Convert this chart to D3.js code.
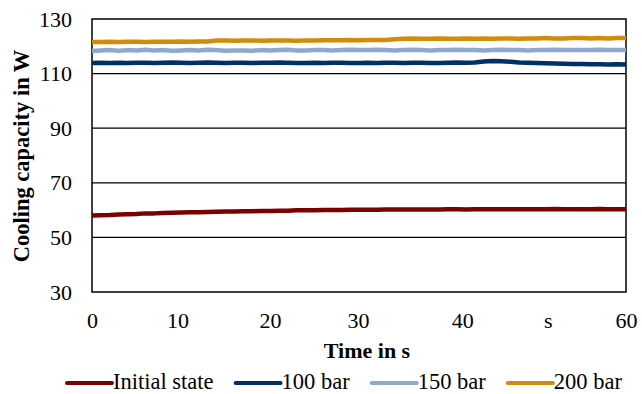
<!DOCTYPE html>
<html><head><meta charset="utf-8">
<script src="https://cdn.jsdelivr.net/npm/d3@7"></script>
<style>body{margin:0;background:#fff}svg{display:block}svg text{font-family:"Liberation Serif","Times New Roman",serif !important;fill:#000}</style>
</head><body><svg id="c" width="642" height="394"></svg>
<script>
// time stamps (s), one per second
const time = d3.range(0, 61);
const initialState = [58.0,58.1,58.2,58.4,58.5,58.6,58.8,58.8,58.9,59.0,59.1,59.2,59.2,59.3,59.4,59.5,59.5,59.6,59.6,59.7,59.7,59.8,59.8,59.9,59.9,59.9,60.0,60.0,60.0,60.1,60.1,60.1,60.1,60.2,60.2,60.2,60.2,60.2,60.2,60.2,60.3,60.3,60.2,60.3,60.3,60.3,60.3,60.3,60.3,60.3,60.3,60.3,60.4,60.3,60.3,60.3,60.3,60.4,60.3,60.3,60.3];
const bar100 = [113.9,114.0,113.9,114.0,113.9,114.0,114.0,113.9,114.0,114.1,114.0,113.9,114.0,114.1,114.0,113.9,114.0,114.0,113.9,114.0,114.0,114.1,114.0,113.9,113.9,114.0,113.9,114.0,114.0,113.9,113.9,114.0,113.9,114.0,114.0,113.9,114.0,114.0,113.9,113.9,114.0,114.1,114.0,114.1,114.4,114.6,114.5,114.3,114.1,114.0,113.9,113.8,113.7,113.6,113.5,113.5,113.4,113.4,113.3,113.4,113.3];
const bar150 = [118.3,118.5,118.6,118.4,118.6,118.5,118.7,118.5,118.6,118.4,118.5,118.6,118.5,118.7,118.6,118.4,118.5,118.5,118.4,118.6,118.5,118.6,118.7,118.5,118.5,118.6,118.6,118.5,118.6,118.7,118.6,118.6,118.7,118.6,118.5,118.6,118.7,118.6,118.5,118.6,118.6,118.7,118.6,118.6,118.5,118.6,118.7,118.6,118.6,118.5,118.6,118.6,118.7,118.6,118.6,118.6,118.6,118.7,118.6,118.6,118.6];
const bar200 = [121.6,121.6,121.7,121.6,121.7,121.7,121.6,121.7,121.7,121.7,121.8,121.7,121.8,121.8,122.1,122.1,122.0,122.1,122.1,122.0,122.1,122.1,122.1,122.0,122.1,122.1,122.2,122.2,122.2,122.3,122.2,122.3,122.3,122.3,122.6,122.8,122.9,122.8,122.8,122.9,122.8,122.8,122.9,122.8,122.9,122.8,122.9,122.9,122.8,122.9,122.9,123.0,122.9,122.9,123.0,123.0,122.9,123.0,122.9,123.0,123.0];
const seriesNames = ["Initial state","100 bar","150 bar","200 bar"];
const seriesColors = ["#7b0000","#003066","#8ea9cf","#d18c0a"];
const yTicks = [30,50,70,90,110,130];
const xTickValues = [0,9.6,20,29.9,41.6,51.2,60];
const xTickLabels = ["0","10","20","30","40","s","60"];

const series = [initialState, bar100, bar150, bar200];
const FONT = '"Liberation Serif","Times New Roman",serif';
const svg = d3.select("#c").attr("font-family", FONT);
const m = {l:92, r:626, t:19, b:292};
const x = d3.scaleLinear().domain([0,60]).range([m.l, m.r]);
const y = d3.scaleLinear().domain([30,130]).range([m.b, m.t]);

// gridlines
svg.append("g").selectAll("line").data(yTicks.slice(1,-1)).join("line")
  .attr("x1", m.l).attr("x2", m.r).attr("y1", d=>y(d)).attr("y2", d=>y(d))
  .attr("stroke","#000").attr("stroke-width",1.2);
// box
svg.append("rect").attr("x",m.l).attr("y",m.t).attr("width",m.r-m.l).attr("height",m.b-m.t)
  .attr("fill","none").attr("stroke","#000").attr("stroke-width",1.5);

// y axis labels
const ya = svg.append("g").attr("transform",`translate(${m.l},0)`)
  .call(d3.axisLeft(y).tickValues(yTicks).tickSize(0).tickPadding(20));
ya.attr("font-family", FONT).attr("font-size", 22);
ya.select(".domain").remove();

// x axis labels
const xa = svg.append("g").attr("transform",`translate(0,${m.b})`)
  .call(d3.axisBottom(x).tickValues(xTickValues).tickFormat((d,i)=>xTickLabels[i]).tickSize(0).tickPadding(20));
xa.attr("font-family", FONT).attr("font-size", 22);
xa.select(".domain").remove();

// lines
const line = d3.line().x((d,i)=>x(time[i])).y(d=>y(d));
series.forEach((s,k)=>{
  svg.append("path").datum(s).attr("d",line).attr("fill","none")
    .attr("stroke",seriesColors[k]).attr("stroke-width",4.5).attr("stroke-linejoin","round");
});

// titles
svg.append("text").attr("x",367).attr("y",358).attr("text-anchor","middle")
  .attr("font-size",22).attr("font-weight","bold").text("Time in s");
svg.append("text").attr("transform","translate(29,156) rotate(-90)").attr("text-anchor","middle")
  .attr("font-size",22.5).attr("font-weight","bold").text("Cooling capacity in W");

// legend
const lg = svg.append("g").attr("font-size",22.5);
let lx = 67;
seriesNames.forEach((n,k)=>{
  lg.append("line").attr("x1",lx).attr("x2",lx+45).attr("y1",383).attr("y2",383)
    .attr("stroke",seriesColors[k]).attr("stroke-width",4).attr("stroke-linecap","round");
  const t = lg.append("text").attr("x",lx+46).attr("y",389).text(n);
  lx = lx + 46 + t.node().getComputedTextLength() + 22;
});
</script></body></html>
